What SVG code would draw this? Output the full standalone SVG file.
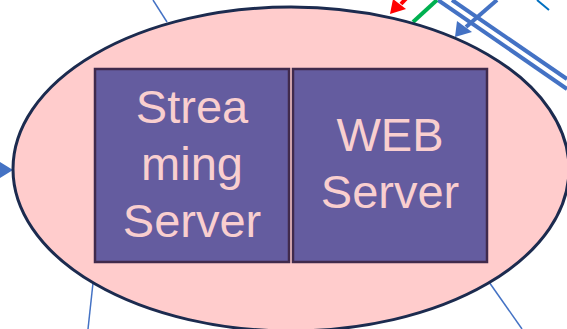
<svg xmlns="http://www.w3.org/2000/svg" width="567" height="329" viewBox="0 0 567 329">
<style>
.box{fill:#645c9f;stroke:#402a4c;stroke-width:2.5}
.lbl{font-family:"Liberation Sans",Arial,sans-serif;font-size:47px;fill:#f9cfcf;text-anchor:middle}
.thin{stroke:#4472c4;stroke-width:1.5;fill:none}
.thick{stroke:#4472c4;stroke-width:4;fill:none}
</style>
<g id="connectors">
<line class="thin" x1="153" y1="0" x2="167" y2="22"/>
<line class="thin" x1="93" y1="283" x2="88" y2="329"/>
<line class="thin" x1="489" y1="282" x2="522" y2="329"/>
<polygon points="0,162 13,170 0,178" fill="#4472c4"/>
<line class="thick" x1="438" y1="0" x2="567" y2="89"/>
<line class="thick" x1="452" y1="0" x2="567" y2="79"/>
<line class="thick" x1="497" y1="0" x2="466" y2="27"/>
<polygon points="455,37 457,21 472,32" fill="#4472c4"/>
<line x1="413" y1="22" x2="437" y2="0" stroke="#00b050" stroke-width="4"/>
<line x1="416" y1="-12" x2="401" y2="4" stroke="#ff0000" stroke-width="4"/>
<polygon points="390,14 393,-1 406,9" fill="#ff0000"/>
<line x1="537" y1="0" x2="549" y2="10" stroke="#0070c0" stroke-width="2"/>
</g>
<g id="cloud">
<ellipse cx="291" cy="169" rx="278" ry="162" fill="#ffcccc" stroke="#1c2b4f" stroke-width="3"/>
</g>
<g id="streaming">
<rect class="box" x="95" y="69" width="194" height="193"/>
<text class="lbl" x="192" y="123">Strea</text>
<text class="lbl" x="192" y="180">ming</text>
<text class="lbl" x="192" y="237">Server</text>
</g>
<g id="web">
<rect class="box" x="293" y="69" width="194" height="193"/>
<text class="lbl" x="390" y="151">WEB</text>
<text class="lbl" x="390" y="208">Server</text>
</g>
</svg>
